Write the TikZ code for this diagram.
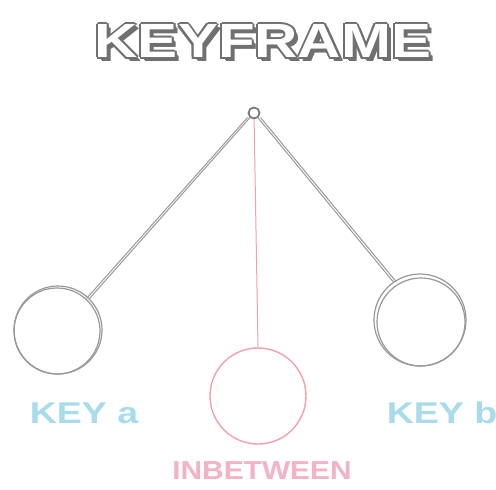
\documentclass[tikz,border=0pt]{standalone}
\usepackage{fontspec}
\setmainfont{Liberation Sans}
\definecolor{sketch}{HTML}{999999}
\definecolor{pinkline}{HTML}{F2A0AC}
\definecolor{keyblue}{HTML}{A9DCEA}
\definecolor{inbpink}{HTML}{F3B3C4}
\definecolor{outline}{HTML}{707070}
\tikzset{
  rope/.style={draw=sketch, line width=1pt},
  bob/.style={circle, draw=sketch, line width=1.2pt, inner sep=0pt},
  pinkrope/.style={draw=pinkline, line width=1pt},
  pinkbob/.style={circle, draw=pinkline, line width=1.4pt, inner sep=0pt},
  titletxt/.style={font=\bfseries\fontsize{48}{48}\selectfont, xscale=1.25},
  keytxt/.style={font=\bfseries\fontsize{30}{30}\selectfont, xscale=1.25, text=keyblue},
  inbtxt/.style={font=\bfseries\fontsize{26}{26}\selectfont, xscale=1.15, text=inbpink},
}
\begin{document}
\begin{tikzpicture}[x=1pt,y=-1pt]
\useasboundingbox[fill=white] (0,0) rectangle (496,490);
% title with outline and drop shadow
\foreach \dx/\dy in {-2/0,2/0,0/-2,0/2,-1.5/-1.5,1.5/1.5,-1.5/1.5,1.5/-1.5,3/3,4/4}
  \node[titletxt, text=outline] at (263+\dx,41+\dy) {KEYFRAME};
\node[titletxt, text=white] (title) at (263,41) {KEYFRAME};
% pivot
\node[circle, draw=sketch!80!black, line width=1.8pt, minimum size=11pt, inner sep=0pt] (pivot) at (254,113) {};
% bobs
\node[bob, minimum size=88pt] (left) at (58,330) {};
\node[bob, minimum size=86pt] at (57,331) {};
\node[bob, minimum size=92pt] (right) at (420,320) {};
\node[bob, minimum size=88pt] at (421,322) {};
\node[pinkbob, minimum size=96pt] (mid) at (258,396) {};
% ropes
\draw[rope] (pivot) -- (left.45);
\draw[rope] ([xshift=-2pt]pivot.south west) -- ([xshift=-3pt]left.45);
\draw[rope] (pivot) -- (right.125);
\draw[rope] ([xshift=2pt]pivot.south east) -- ([xshift=3pt]right.125);
\draw[pinkrope] (pivot) -- (mid.north);
% labels
\node[keytxt] (keya) at (84,413) {KEY a};
\node[keytxt] (keyb) at (442,413) {KEY b};
\node[inbtxt] (inb) at (262,471) {INBETWEEN};
\end{tikzpicture}
\end{document}
